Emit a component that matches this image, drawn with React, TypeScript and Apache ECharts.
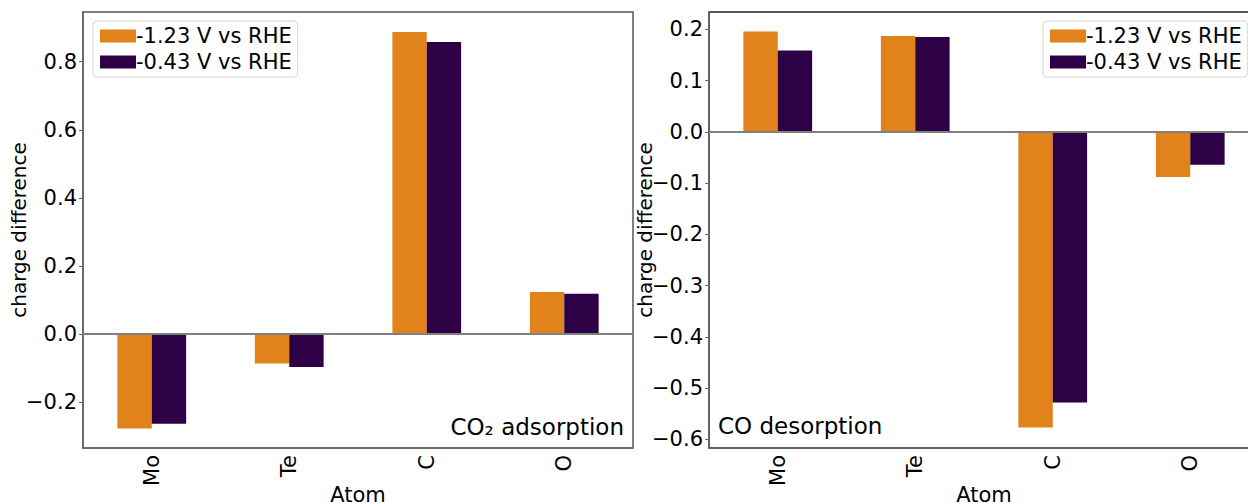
import React, { useEffect, useRef } from "react";
import * as echarts from "echarts";

const categories = ["Mo", "Te", "C", "O"];
const seriesNames = ["-1.23 V vs RHE", "-0.43 V vs RHE"];
const adsorption123 = [-0.278, -0.087, 0.887, 0.123];
const adsorption043 = [-0.264, -0.097, 0.858, 0.118];
const desorption123 = [0.196, 0.187, -0.577, -0.088];
const desorption043 = [0.159, 0.185, -0.528, -0.064];
const leftTicks = [-0.2, 0, 0.2, 0.4, 0.6, 0.8];
const rightTicks = [-0.6, -0.5, -0.4, -0.3, -0.2, -0.1, 0, 0.1, 0.2];
const leftRange = [-0.335, 0.946];
const rightRange = [-0.617, 0.234];
const annotations = ["CO\u2082 adsorption", "CO desorption"];

const ORANGE = "#E1821A";
const PURPLE = "#2E0046";
const FONT = "DejaVu Sans";

const fmt = (v: number) =>
  v < -1e-9 ? "\u2212" + Math.abs(v).toFixed(1) : Math.abs(v).toFixed(1);

export default function App() {
  const ref = useRef<HTMLDivElement>(null);
  useEffect(() => {
    if (!ref.current) return;
    const chart = echarts.init(ref.current, null, { renderer: "svg" });
    const grids = [
      { left: 83, top: 12, width: 550, height: 436, outerBoundsMode: "none", containLabel: false, show: true, borderColor: "#555", borderWidth: 1.5, backgroundColor: "transparent" },
      { left: 709, top: 12, width: 550, height: 436, outerBoundsMode: "none", containLabel: false, show: true, borderColor: "#222", borderWidth: 1.5, backgroundColor: "transparent" },
    ];
    const xAxis = [0, 1].map((i) => ({
      type: "category",
      gridIndex: i,
      data: categories,
      boundaryGap: true,
      name: "Atom",
      nameLocation: "middle",
      nameGap: 36,
      nameMoveOverlap: false,
      nameTextStyle: { fontSize: 21, color: "#000", fontFamily: FONT },
      axisLine: { onZero: false, lineStyle: { color: "#666", width: 1.5 } },
      axisTick: { alignWithLabel: true, length: 4, lineStyle: { color: "#666", width: 1 } },
      axisLabel: { rotate: 90, fontSize: 21, color: "#000", fontFamily: FONT, margin: 7 },
      splitLine: { show: false },
    }));
    const yAxis = [
      { range: leftRange, ticks: leftTicks },
      { range: rightRange, ticks: rightTicks },
    ].map((a, i) => ({
      type: "value",
      gridIndex: i,
      min: a.range[0],
      max: a.range[1],
      name: "charge difference",
      nameLocation: "middle",
      nameGap: 54,
      nameMoveOverlap: false,
      nameTextStyle: { fontSize: 20, color: "#000", fontFamily: FONT },
      axisLine: { show: true, lineStyle: { color: "#666", width: 1.5 } },
      axisTick: { show: true, length: 4, customValues: a.ticks, lineStyle: { color: "#666", width: 1 } },
      axisLabel: { fontSize: 21, color: "#000", fontFamily: FONT, margin: 6, customValues: a.ticks, formatter: fmt },
      splitLine: { show: false },
    }));
    const zeroLine = {
      silent: true,
      symbol: ["none", "none"],
      label: { show: false },
      lineStyle: { color: "#808080", width: 2, type: "solid" },
      data: [{ yAxis: 0 }],
      z: 10,
    };
    const mk = (name: string, data: number[], color: string, idx: number, withLine: boolean) => ({
      type: "bar",
      name,
      data,
      xAxisIndex: idx,
      yAxisIndex: idx,
      barWidth: "25%",
      barGap: "0%",
      itemStyle: { color },
      ...(withLine ? { markLine: zeroLine } : {}),
    });
    const legendCommon = {
      orient: "vertical",
      top: 21,
      itemWidth: 36,
      itemHeight: 13,
      itemGap: 2,
      icon: "rect",
      padding: [3, 6, 3, 7],
      backgroundColor: "#fff",
      borderColor: "#d4d4d4",
      borderWidth: 1,
      borderRadius: 4,
      data: seriesNames,
      textStyle: { fontSize: 21, lineHeight: 24, color: "#000", fontFamily: FONT, padding: [0, 0, 0, -5] },
      selectedMode: false,
    };
    chart.setOption({
      animation: false,
      backgroundColor: "#fff",
      textStyle: { fontFamily: FONT },
      grid: grids,
      xAxis,
      yAxis,
      legend: [
        { ...legendCommon, left: 93 },
        { ...legendCommon, left: 1043 },
      ],
      series: [
        mk(seriesNames[0], adsorption123, ORANGE, 0, true),
        mk(seriesNames[1], adsorption043, PURPLE, 0, false),
        mk(seriesNames[0], desorption123, ORANGE, 1, true),
        mk(seriesNames[1], desorption043, PURPLE, 1, false),
      ],
      graphic: [
        {
          type: "text",
          x: 624,
          y: 427,
          style: { text: annotations[0], fontSize: 23, fill: "#000", fontFamily: FONT, align: "right", verticalAlign: "middle" },
          z: 100,
        },
        {
          type: "text",
          x: 718,
          y: 426,
          style: { text: annotations[1], fontSize: 23, fill: "#000", fontFamily: FONT, align: "left", verticalAlign: "middle" },
          z: 100,
        },
      ],
    });
    return () => chart.dispose();
  }, []);
  return (
    <div
      ref={ref}
      style={{ position: "fixed", left: 0, top: 0, width: 1248, height: 503, background: "#fff" }}
    />
  );
}
